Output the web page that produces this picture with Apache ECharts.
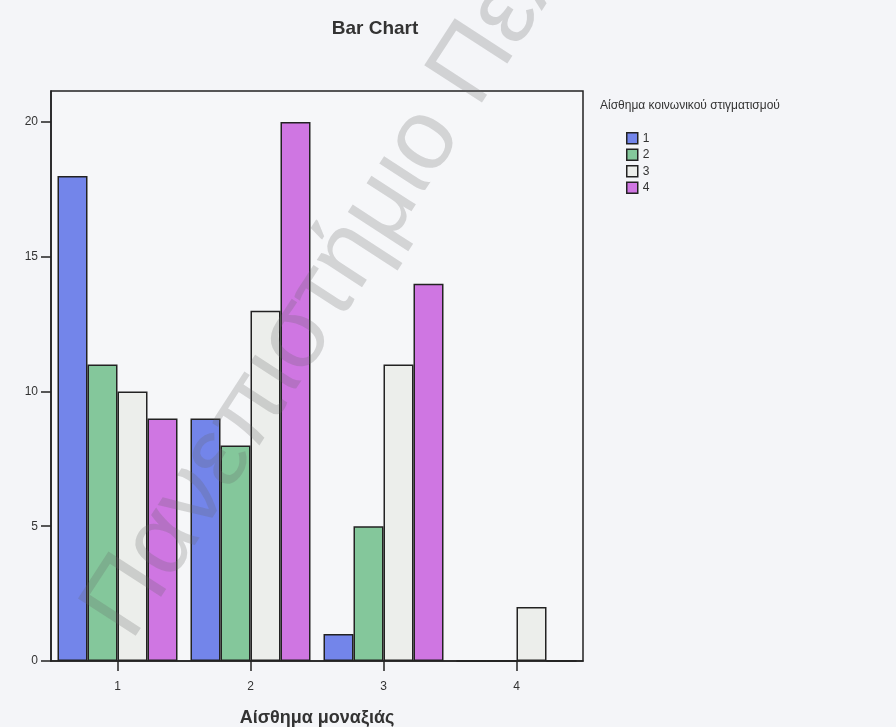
<!DOCTYPE html>
<html>
<head>
<meta charset="utf-8">
<script src="https://cdn.jsdelivr.net/npm/echarts@6/dist/echarts.min.js"></script>
<style>
html,body{margin:0;padding:0;background:#f4f5f8;}
#chart{width:896px;height:727px;}
</style>
</head>
<body>
<div id="chart"></div>
<script>
const categories = ['1', '2', '3', '4'];
const seriesNames = ['1', '2', '3', '4'];
const values1 = [18, 9, 1, 0];
const values2 = [11, 8, 5, 0];
const values3 = [10, 13, 11, 2];
const values4 = [9, 20, 14, 0];
const yTicks = [0, 5, 10, 15, 20];
const colors = ['#7385ea', '#84c79b', '#eceeeb', '#cf76e2'];

const allValues = [values1, values2, values3, values4];
const font = '"Liberation Sans", Arial, sans-serif';

const chart = echarts.init(document.getElementById('chart'));
chart.setOption({
  backgroundColor: '#f4f5f8',
  animation: false,
  title: [
    { text: 'Bar Chart', left: 370, top: 14, textAlign: 'center',
      textStyle: { fontFamily: font, fontSize: 19, fontWeight: 'bold', color: '#333' } },
    { text: 'Αίσθημα κοινωνικού στιγματισμού', left: 595, top: 95,
      textStyle: { fontFamily: font, fontSize: 12, fontWeight: 'normal', color: '#333' } }
  ],
  legend: {
    orient: 'vertical', left: 621, top: 127,
    itemWidth: 11, itemHeight: 11, itemGap: 4, icon: 'rect',
    itemStyle: { borderColor: '#222', borderWidth: 1.5 },
    textStyle: { fontFamily: font, fontSize: 12, color: '#333', padding: [0, 0, 0, 0] },
    data: seriesNames
  },
  grid: {
    left: 51, right: 313, top: 91, bottom: 66,
    containLabel: false, outerBoundsMode: 'none',
    show: true, borderColor: '#222', borderWidth: 1.5, backgroundColor: '#f6f7f9'
  },
  xAxis: {
    type: 'category', data: categories,
    name: 'Αίσθημα μοναξιάς', nameLocation: 'middle', nameGap: 48,
    nameTextStyle: { fontFamily: font, fontSize: 18, fontWeight: 'bold', color: '#333' },
    axisLine: { show: true, lineStyle: { color: '#222', width: 1.5 } },
    axisTick: { show: true, alignWithLabel: true, length: 10, lineStyle: { color: '#222', width: 1.5 } },
    axisLabel: { fontFamily: font, fontSize: 12, color: '#333', margin: 20 },
    splitLine: { show: false }
  },
  yAxis: {
    type: 'value', min: 0, max: 21.15, interval: 5,
    axisLine: { show: true, lineStyle: { color: '#222', width: 1.5 } },
    axisTick: { show: true, length: 10, customValues: yTicks, lineStyle: { color: '#222', width: 1.5 } },
    axisLabel: { fontFamily: font, fontSize: 12, color: '#333', margin: 13, customValues: yTicks },
    splitLine: { show: false }
  },
  series: seriesNames.map((name, i) => ({
    name: name, type: 'bar', data: allValues[i],
    barWidth: 30, barGap: '0%',
    itemStyle: { color: colors[i], borderColor: '#222', borderWidth: 1.5 }
  })),
  graphic: [{
    type: 'text', x: 150, y: 655, rotation: 57 * Math.PI / 180, z: 100, silent: true,
    style: {
      text: 'Πανεπιστήμιο Πελοποννήσου',
      font: '100px "Liberation Sans", Arial, sans-serif',
      fill: 'rgba(100,100,100,0.24)',
      textVerticalAlign: 'bottom'
    }
  }]
});
</script>
</body>
</html>
